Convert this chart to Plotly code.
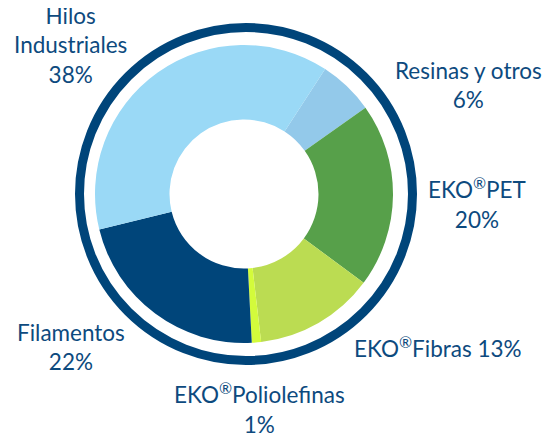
import plotly.graph_objects as go

labels = ["Resinas y otros", "EKO<sup>®</sup>PET", "EKO<sup>®</sup>Fibras", "EKO<sup>®</sup>Poliolefinas", "Filamentos", "Hilos<br>Industriales"]
values = [6, 20, 13, 1, 22, 38]
colors = ["#93c9ea", "#57a04a", "#bbdc52", "#d3fb3b", "#00457a", "#9ad9f6"]

# label layout (screen pixels) and separator between name and percentage
label_pos = [(468, 85, "<br>"), (477, 203, "<br>"), (438, 347, " "), (259, 408, "<br>"), (71, 347, "<br>"), (70, 45, "<br>")]

W, H = 555, 434
OFF = 8  # page body margin offset
TEXT = "#0d4a7e"
FONT = "Lato"


def px(x):
    return (x - OFF) / W


def py(y):
    return 1 - (y - OFF) / H


fig = go.Figure()
cx, cy, r = 244, 194, 149
fig.add_trace(go.Pie(
    labels=labels, values=values, sort=False, direction="clockwise", rotation=33,
    hole=0.5, textinfo="none", marker=dict(colors=colors, line=dict(width=0)),
    domain=dict(x=[px(cx - r), px(cx + r)], y=[py(cy + r), py(cy - r)]),
    showlegend=False,
))

# outer ring
rc, rr = 246, 166.5
fig.add_shape(type="circle", xref="paper", yref="paper",
              x0=px(rc - rr), x1=px(rc + rr), y0=py(cy + rr), y1=py(cy - rr),
              line=dict(color="#00457a", width=9), fillcolor="rgba(0,0,0,0)", layer="below")

total = sum(values)
for lab, v, (x, y, sep) in zip(labels, values, label_pos):
    fig.add_annotation(x=px(x), y=py(y), xref="paper", yref="paper",
                       text=f"{lab}{sep}{round(100 * v / total)}%", showarrow=False,
                       font=dict(family=FONT, size=22.5, color=TEXT), align="center",
                       xanchor="center", yanchor="middle")

fig.update_layout(width=W, height=H, margin=dict(l=0, r=0, t=0, b=0),
                  paper_bgcolor="white", plot_bgcolor="white")
fig.write_html("out.html")
